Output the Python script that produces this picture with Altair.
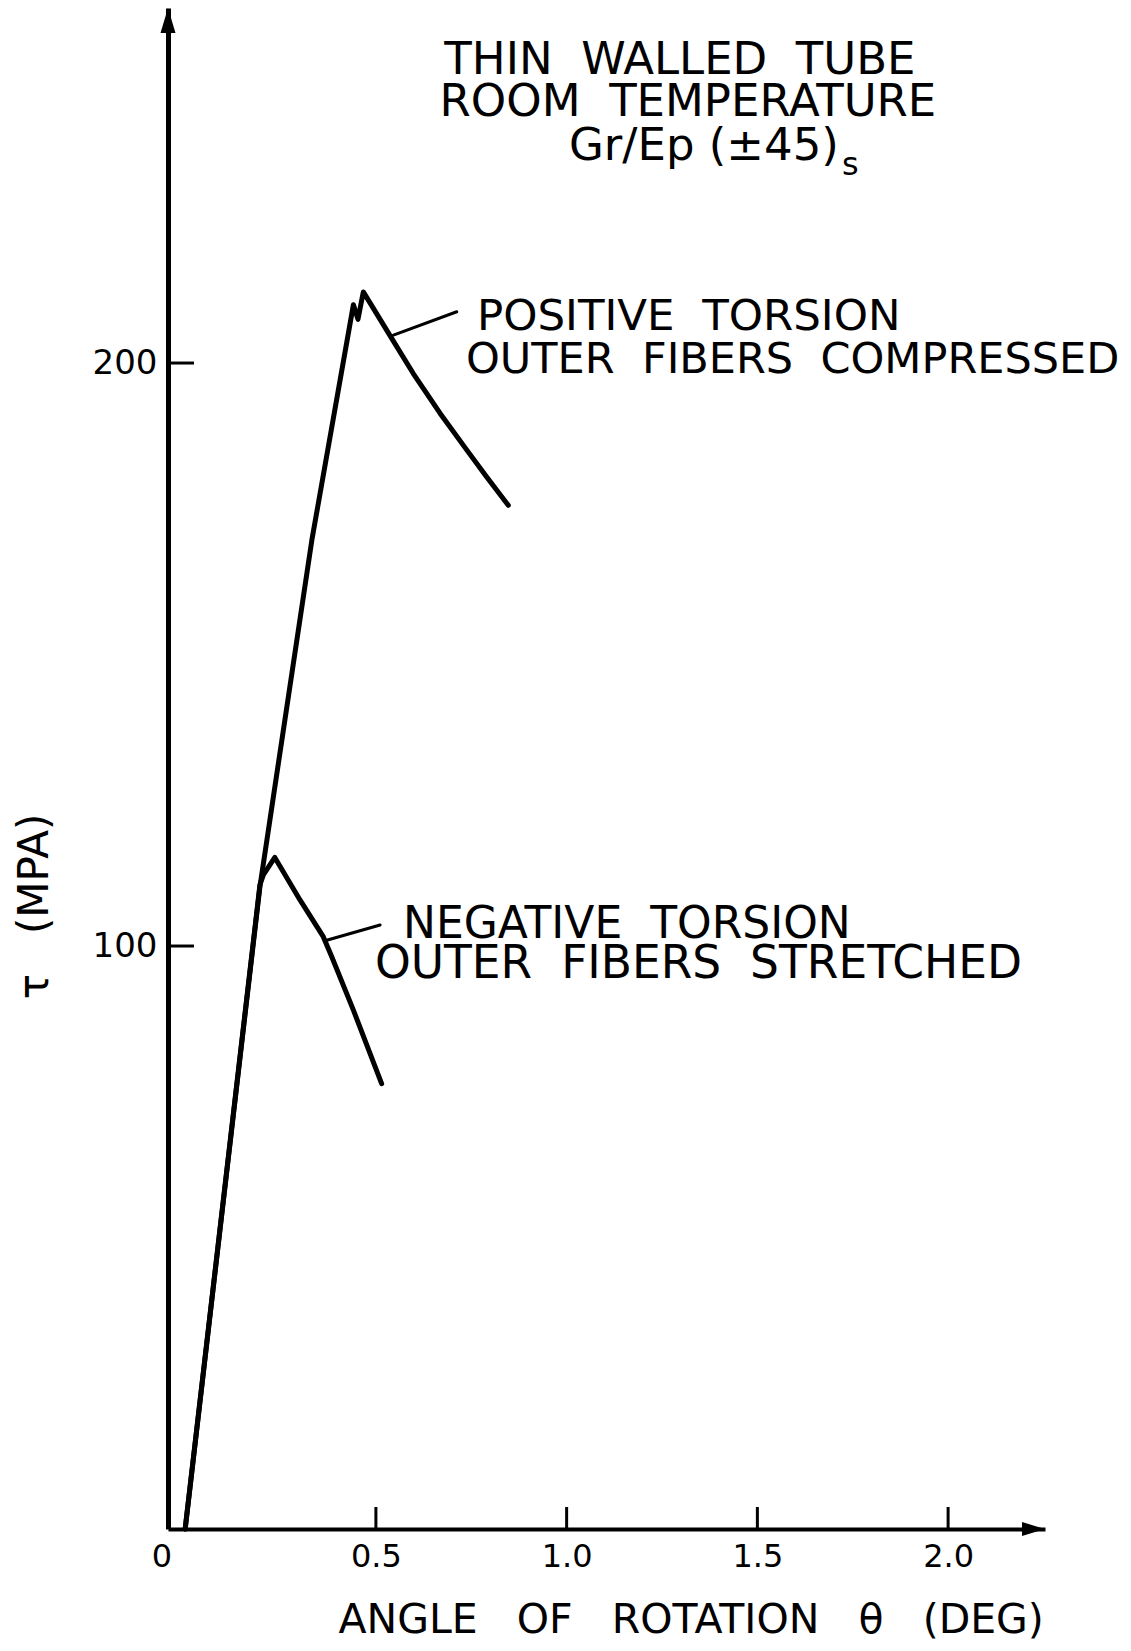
import altair as alt
import pandas as pd

NB = "\u00a0"

# ---- curve data (theta in deg, tau in MPa) ----
pos_theta = [0.0, 0.196, 0.332, 0.441, 0.453, 0.467, 0.537, 0.598, 0.668, 0.738, 0.790, 0.847]
pos_tau = [0.0, 110.2, 169.6, 210.0, 207.5, 212.2, 204.7, 198.2, 191.4, 185.1, 180.5, 175.6]

neg_theta = [0.0, 0.196, 0.205, 0.235, 0.301, 0.362, 0.384, 0.441, 0.515]
neg_tau = [0.0, 110.5, 112.2, 115.2, 107.9, 101.6, 98.2, 89.0, 76.4]

# leader lines from curves to labels
pos_leader_theta = [0.546, 0.712]
pos_leader_tau = [204.8, 208.8]
neg_leader_theta = [0.371, 0.511]
neg_leader_tau = [101.0, 103.6]

# axes
x_domain = [-0.045, 2.254]
y_domain = [0, 260.9]
x_ticks = [0.5, 1.0, 1.5, 2.0]
y_ticks = [100, 200]

# texts (anchored in data coordinates)
left_texts = [
    "POSITIVE" + NB * 2 + "TORSION",
    "OUTER" + NB * 2 + "FIBERS" + NB * 2 + "COMPRESSED",
    "NEGATIVE" + NB * 2 + "TORSION",
    "OUTER" + NB * 2 + "FIBERS" + NB * 2 + "STRETCHED",
    "Gr/Ep (\u00b145)",
]
left_theta = [0.765, 0.736, 0.571, 0.4975, 1.006]
left_tau = [205.7, 198.3, 101.4, 94.5, 234.8]
left_size = [43.5, 43, 44, 45.5, 45]

center_texts = ["THIN" + NB * 2 + "WALLED" + NB * 2 + "TUBE", "ROOM" + NB * 2 + "TEMPERATURE"]
center_theta = [1.297, 1.318]
center_tau = [249.6, 242.4]

sub_text = ["s"]
sub_theta = [1.722]
sub_tau = [232.3]

x_title = "ANGLE" + NB * 3 + "OF" + NB * 3 + "ROTATION" + NB * 3 + "\u03b8" + NB * 3 + "(DEG)"
y_title = "\u03c4" + NB * 3 + "(MPA)"

FONT = "DejaVu Sans"

# ---- build tables ----
rows = []
for i, (t, v) in enumerate(zip(pos_theta, pos_tau)):
    rows.append({"series": "positive", "theta": t, "tau": v, "idx": i})
for i, (t, v) in enumerate(zip(neg_theta, neg_tau)):
    rows.append({"series": "negative", "theta": t, "tau": v, "idx": i})
curves = pd.DataFrame(rows)

lrows = []
for i, (t, v) in enumerate(zip(pos_leader_theta, pos_leader_tau)):
    lrows.append({"series": "pos", "theta": t, "tau": v, "idx": i})
for i, (t, v) in enumerate(zip(neg_leader_theta, neg_leader_tau)):
    lrows.append({"series": "neg", "theta": t, "tau": v, "idx": i})
leaders = pd.DataFrame(lrows)

xscale = alt.Scale(domain=x_domain, nice=False, zero=False)
yscale = alt.Scale(domain=y_domain, nice=False, zero=False)

xaxis = alt.Axis(
    values=x_ticks, format=".1f", ticks=False, tickSize=0, grid=False,
    domainColor="black", domainWidth=4,
    labelFont=FONT, labelFontSize=32, labelColor="black", labelPadding=12,
    labelFlush=False, labelOverlap=False,
    title=x_title, titleFont=FONT, titleFontSize=41, titleFontWeight="normal",
    titleColor="black", titleX=170, titleY=103, titleAlign="left",
    titleBaseline="alphabetic",
)
yaxis = alt.Axis(
    values=y_ticks, format="d", ticks=False, tickSize=0, grid=False,
    domainColor="black", domainWidth=5,
    labelFont=FONT, labelFontSize=34, labelColor="black", labelPadding=11,
    labelFlush=False, labelOverlap=False,
    title=y_title, titleFont=FONT, titleFontSize=42, titleFontWeight="normal",
    titleColor="black", titleAngle=270, titleX=-134, titleY=898,
    titleAlign="center", titleBaseline="middle",
)

base_x = alt.X("theta:Q", scale=xscale, axis=xaxis)
base_y = alt.Y("tau:Q", scale=yscale, axis=yaxis)

curve_layer = alt.Chart(curves).mark_line(
    color="black", strokeWidth=5, strokeCap="round", strokeJoin="round"
).encode(x=base_x, y=base_y, detail="series:N", order="idx:Q")

leader_layer = alt.Chart(leaders).mark_line(
    color="black", strokeWidth=3, strokeCap="round"
).encode(x="theta:Q", y="tau:Q", detail="series:N", order="idx:Q")

# inward ticks
yt = pd.DataFrame({"theta": [x_domain[0]] * len(y_ticks), "tau": y_ticks})
ytick_layer = alt.Chart(yt).mark_tick(
    orient="horizontal", size=26, thickness=3, color="black", xOffset=13, opacity=1
).encode(x="theta:Q", y="tau:Q")

xt = pd.DataFrame({"theta": x_ticks, "tau": [y_domain[0]] * len(x_ticks)})
xtick_layer = alt.Chart(xt).mark_tick(
    orient="vertical", size=22, thickness=3, color="black", yOffset=-11, opacity=1
).encode(x="theta:Q", y="tau:Q")

# arrowheads
arr_up = pd.DataFrame({"theta": [x_domain[0]], "tau": [y_domain[1]]})
arrow_up = alt.Chart(arr_up).mark_point(
    shape="M-0.6,2L0,0L0.6,2Z", size=625, filled=True, color="black", opacity=1
).encode(x="theta:Q", y="tau:Q")

arr_right = pd.DataFrame({"theta": [x_domain[1]], "tau": [y_domain[0]]})
arrow_right = alt.Chart(arr_right).mark_point(
    shape="M-2,-0.6L0,0L-2,0.6Z", size=529, filled=True, color="black", opacity=1
).encode(x="theta:Q", y="tau:Q")

# corner zero
zero_df = pd.DataFrame({"theta": [x_domain[0]], "tau": [y_domain[0]], "label": ["0"]})
zero_layer = alt.Chart(zero_df).mark_text(
    font=FONT, fontSize=32, color="black", align="center", baseline="middle", dx=-6, dy=28
).encode(x="theta:Q", y="tau:Q", text="label:N")

left_df = pd.DataFrame({"theta": left_theta, "tau": left_tau, "label": left_texts, "fs": left_size})
left_layer = alt.Chart(left_df).mark_text(
    font=FONT, color="black", align="left", baseline="alphabetic"
).encode(x="theta:Q", y="tau:Q", text="label:N", size=alt.Size("fs:Q", scale=None, legend=None))

center_df = pd.DataFrame({"theta": center_theta, "tau": center_tau, "label": center_texts})
center_layer = alt.Chart(center_df).mark_text(
    font=FONT, fontSize=45, color="black", align="center", baseline="alphabetic"
).encode(x="theta:Q", y="tau:Q", text="label:N")

sub_df = pd.DataFrame({"theta": sub_theta, "tau": sub_tau, "label": sub_text})
sub_layer = alt.Chart(sub_df).mark_text(
    font=FONT, fontSize=32, color="black", align="left", baseline="alphabetic"
).encode(x="theta:Q", y="tau:Q", text="label:N")

chart = alt.layer(
    curve_layer, leader_layer, ytick_layer, xtick_layer, arrow_up, arrow_right,
    zero_layer, left_layer, center_layer, sub_layer,
).properties(
    width=877, height=1521,
    autosize=alt.AutoSizeParams(type="none"),
    padding={"left": 160, "top": 0, "right": 78, "bottom": 114},
    background="white",
).configure_view(stroke=None)

chart.save("out.html", embed_options={"renderer": "svg", "actions": False})
